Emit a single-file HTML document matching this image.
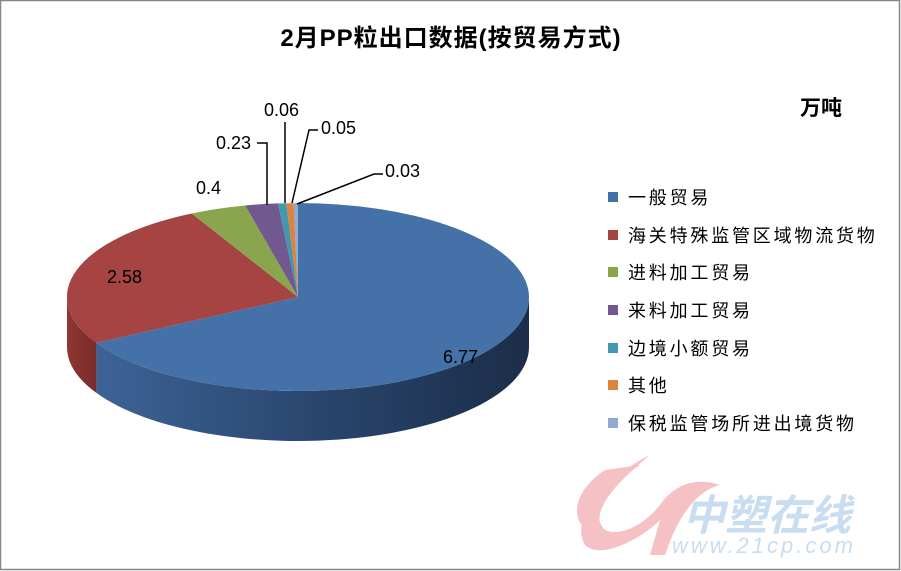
<!DOCTYPE html>
<html><head><meta charset="utf-8"><style>
html,body{margin:0;padding:0;background:#fff;}
svg{display:block;font-family:"Liberation Sans","Noto Sans CJK SC",sans-serif;}
</style></head><body>
<svg width="901" height="571" viewBox="0 0 901 571">
<defs>
<linearGradient id="bs" x1="0" y1="0" x2="1" y2="0">
<stop offset="0" stop-color="#3d6397"/><stop offset="0.5" stop-color="#2a466e"/><stop offset="1" stop-color="#1b2d48"/>
</linearGradient>
<linearGradient id="rs" x1="0" y1="0" x2="1" y2="0">
<stop offset="0" stop-color="#8f3532"/><stop offset="1" stop-color="#7a2c2a"/>
</linearGradient>
</defs>
<rect x="0.5" y="0.5" width="899" height="569" fill="#fff" stroke="#868686" stroke-width="1.5"/>
<text x="451" y="46" text-anchor="middle" font-size="24" font-weight="bold" fill="#000" letter-spacing="1">2月PP粒出口数据(按贸易方式)</text>
<text x="800" y="115" font-size="21" font-weight="bold" fill="#000">万吨</text>

<!-- watermark -->
<path d="M650,455 C600,480 570,520 585,545 C600,560 640,540 660,520 L650,555 L665,555 C680,510 700,490 720,485 C690,475 670,490 660,505 C640,530 610,540 600,525 C595,505 620,480 650,455 Z" fill="#f6c1c5"/>
<path d="M605,470 C560,500 575,540 610,535 C590,520 595,495 640,465 Z" fill="#f6c1c5"/>
<text x="683" y="530" font-size="42" font-style="italic" font-weight="bold" fill="#c9ddf0" font-family="'Noto Sans CJK SC',sans-serif">中塑在线</text>
<text x="672" y="553" font-size="22" font-style="italic" fill="#c9ddf0" letter-spacing="3">www.21cp.com</text>

<!-- sides -->
<path d="M529,297 A231,94 0 0 1 96.4,342.9 L96.4,392.9 A231,94 0 0 0 529,347 Z" fill="url(#bs)"/>
<path d="M96.4,342.9 A231,94 0 0 1 67,297 L67,347 A231,94 0 0 0 96.4,392.9 Z" fill="url(#rs)"/>
<!-- top -->
<path d="M298,297 L298,203 A231,94 0 1 1 96.4,342.9 Z" fill="#4471a7"/>
<path d="M298,297 L96.4,342.9 A231,94 0 0 1 191.7,213.5 Z" fill="#a54442"/>
<path d="M298,297 L191.7,213.5 A231,94 0 0 1 245.2,205.5 Z" fill="#89a54e"/>
<path d="M298,297 L245.2,205.5 A231,94 0 0 1 277.9,203.4 Z" fill="#71588f"/>
<path d="M298,297 L277.9,203.4 A231,94 0 0 1 286.3,203.3 Z" fill="#4198af"/>
<path d="M298,297 L286.3,203.3 A231,94 0 0 1 293.6,203.1 Z" fill="#db843d"/>
<path d="M298,297 L293.6,203.1 A231,94 0 0 1 298,203 Z" fill="#93a9cf"/>

<!-- leaders -->
<g stroke="#000" stroke-width="1.5" fill="none">
<polyline points="257,143 267,143 267,205"/>
<polyline points="285,122 285,203"/>
<polyline points="318,130 309,130 292,203"/>
<polyline points="383,174 374,174 297,204"/>
</g>
<g font-size="18" fill="#000">
<text x="443" y="363">6.77</text>
<text x="107" y="283">2.58</text>
<text x="196" y="194">0.4</text>
<text x="216" y="149">0.23</text>
<text x="264" y="116">0.06</text>
<text x="321" y="134">0.05</text>
<text x="385" y="177">0.03</text>
</g>

<!-- legend -->
<g font-size="18" fill="#000" letter-spacing="2.8">
<rect x="608" y="192" width="10" height="10" fill="#4471a7"/><text x="628" y="204">一般贸易</text>
<rect x="608" y="230" width="10" height="10" fill="#a54442"/><text x="628" y="242">海关特殊监管区域物流货物</text>
<rect x="608" y="267" width="10" height="10" fill="#89a54e"/><text x="628" y="279">进料加工贸易</text>
<rect x="608" y="305" width="10" height="10" fill="#71588f"/><text x="628" y="317">来料加工贸易</text>
<rect x="608" y="343" width="10" height="10" fill="#4198af"/><text x="628" y="355">边境小额贸易</text>
<rect x="608" y="380" width="10" height="10" fill="#db843d"/><text x="628" y="392">其他</text>
<rect x="608" y="418" width="10" height="10" fill="#93a9cf"/><text x="628" y="430">保税监管场所进出境货物</text>
</g>
</svg>
</body></html>
